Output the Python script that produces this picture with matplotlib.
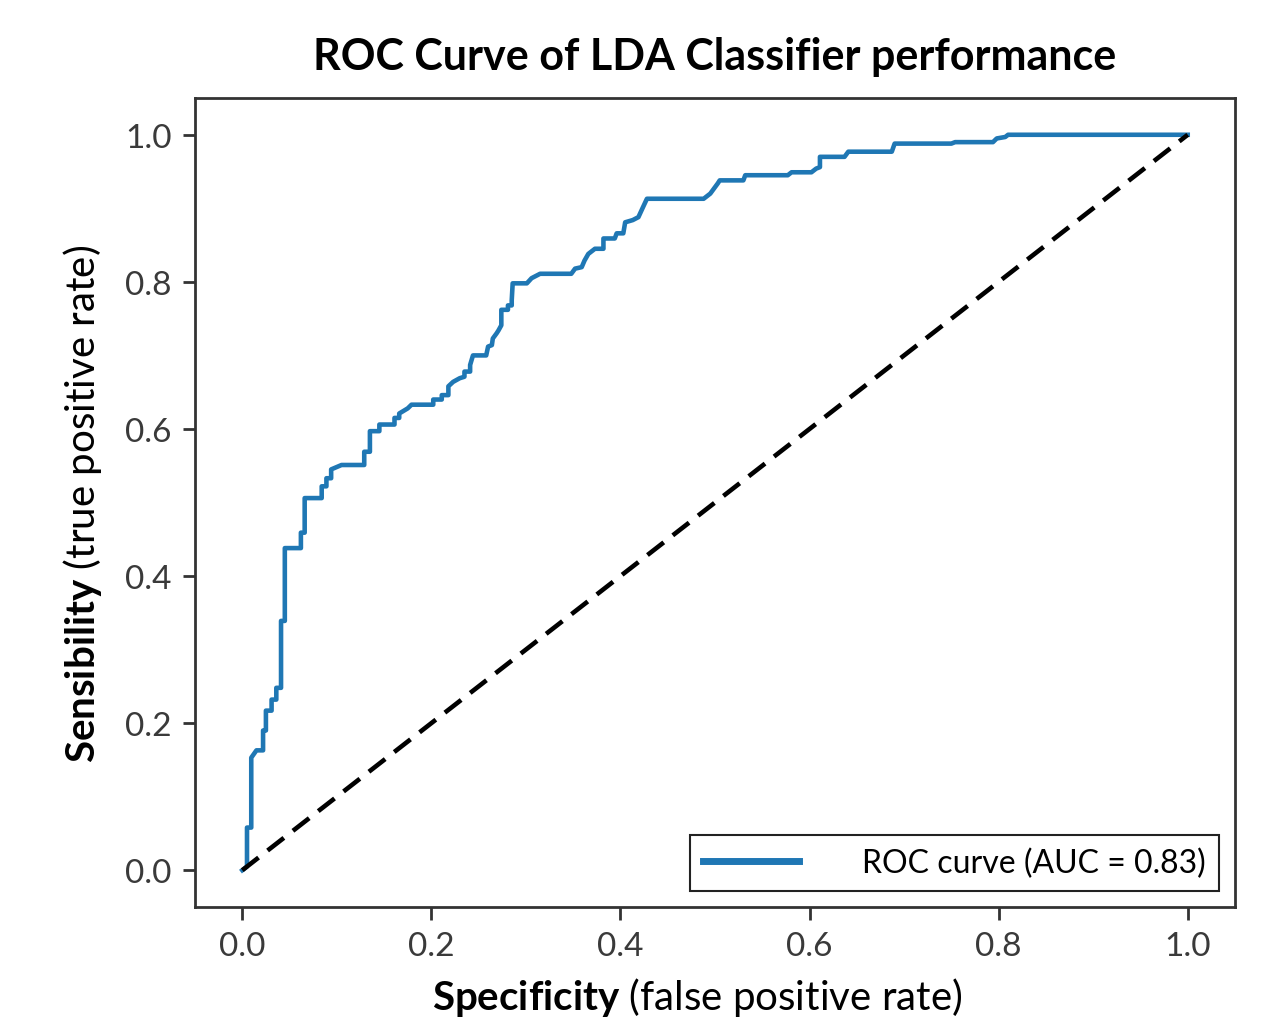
import numpy as np
import matplotlib.pyplot as plt

fpr = [0.000, 0.005, 0.005, 0.0095, 0.0095, 0.015, 0.022, 0.022, 0.025, 0.025,
       0.031, 0.031, 0.036, 0.036, 0.041, 0.041, 0.045, 0.045, 0.062, 0.062,
       0.066, 0.066, 0.084, 0.084, 0.089, 0.089, 0.094, 0.094, 0.105, 0.129,
       0.129, 0.135, 0.135, 0.145, 0.145, 0.161, 0.161, 0.166, 0.166, 0.175,
       0.179, 0.202, 0.202, 0.211, 0.211, 0.218, 0.218, 0.223, 0.230, 0.235,
       0.235, 0.241, 0.241, 0.244, 0.258, 0.260, 0.264, 0.265, 0.269, 0.271,
       0.274, 0.274, 0.281, 0.281, 0.285, 0.285, 0.286, 0.301, 0.306, 0.315,
       0.348, 0.352, 0.359, 0.362, 0.366, 0.373, 0.382, 0.382, 0.394, 0.396,
       0.403, 0.405, 0.413, 0.419, 0.424, 0.428, 0.488, 0.495, 0.503, 0.505,
       0.530, 0.532, 0.577, 0.581, 0.602, 0.607, 0.611, 0.611, 0.637, 0.641,
       0.687, 0.690, 0.750, 0.754, 0.794, 0.798, 0.807, 0.810, 1.000]
tpr = [0.000, 0.005, 0.058, 0.058, 0.153, 0.163, 0.163, 0.190, 0.190, 0.217,
       0.217, 0.232, 0.232, 0.248, 0.248, 0.339, 0.339, 0.438, 0.438, 0.459,
       0.459, 0.506, 0.506, 0.522, 0.522, 0.533, 0.533, 0.545, 0.551, 0.551,
       0.569, 0.569, 0.597, 0.597, 0.606, 0.606, 0.615, 0.615, 0.621, 0.628,
       0.633, 0.633, 0.640, 0.640, 0.646, 0.646, 0.658, 0.664, 0.669, 0.671,
       0.678, 0.678, 0.687, 0.700, 0.700, 0.712, 0.714, 0.723, 0.730, 0.734,
       0.741, 0.762, 0.762, 0.768, 0.768, 0.775, 0.798, 0.798, 0.805, 0.811,
       0.811, 0.818, 0.820, 0.829, 0.838, 0.845, 0.845, 0.859, 0.859, 0.866,
       0.866, 0.881, 0.884, 0.888, 0.902, 0.913, 0.913, 0.920, 0.934, 0.938,
       0.938, 0.945, 0.945, 0.949, 0.949, 0.954, 0.956, 0.970, 0.970, 0.977,
       0.977, 0.988, 0.988, 0.990, 0.990, 0.995, 0.997, 1.000, 1.000]
auc = 0.83
chance = [0, 1]

plt.rcParams['font.family'] = ['Lato', 'DejaVu Sans']
plt.rcParams['mathtext.fontset'] = 'custom'
plt.rcParams['mathtext.rm'] = 'Lato'
plt.rcParams['mathtext.bf'] = 'Lato:bold'

fig = plt.figure(figsize=(12.71, 10.20), dpi=100)
ax = fig.add_axes([195/1271, 1-908/1020, 1040/1271, 809/1020])

ax.plot(fpr, tpr, color='#1f77b4', lw=3.3, label='ROC curve (AUC = %0.2f)' % auc)
ax.plot(chance, chance, 'k--', lw=3.3, dashes=(4.5, 2.5))

ax.set_title('ROC Curve of LDA Classifier performance', fontsize=31,
             fontweight='bold', pad=21)
ax.set_xlabel(r'$\bf{Specificity}$ (false positive rate)', fontsize=29)
ax.xaxis.set_label_coords(0.483, -0.084)
ax.set_ylabel(r'$\bf{Sensibility}$ (true positive rate)', fontsize=29, labelpad=15)

ax.set_xticks([0, 0.2, 0.4, 0.6, 0.8, 1.0])
ax.set_yticks([0, 0.2, 0.4, 0.6, 0.8, 1.0])
ax.tick_params(labelsize=24, length=9, width=2, color='#333333',
               labelcolor='#3a3a3a', pad=8)
for s in ax.spines.values():
    s.set_linewidth(2)
    s.set_color('#333333')

leg = ax.legend(loc='lower right', fontsize=23, fancybox=False, framealpha=1,
                edgecolor='#222222', handlelength=3.0, handletextpad=2.0,
                borderpad=0.4, borderaxespad=0.5)
leg.get_frame().set_linewidth(1.5)
for line in leg.get_lines():
    line.set_linewidth(5)

plt.savefig('out.png', dpi=100)
